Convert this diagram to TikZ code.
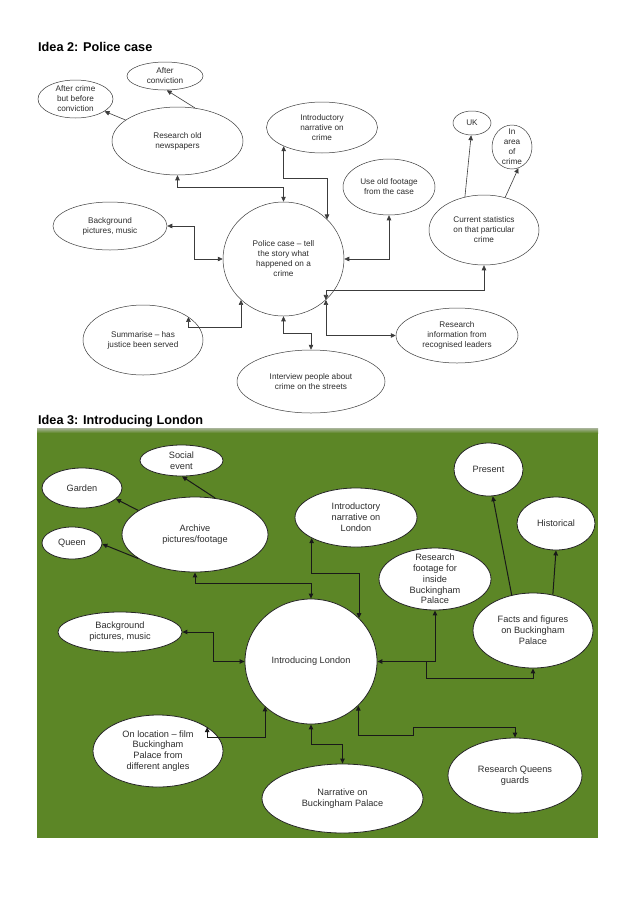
\documentclass[tikz,border=0pt]{standalone}
\usepackage{fontspec}
\setmainfont{Liberation Sans}
\usetikzlibrary{shapes.geometric,arrows.meta}
\definecolor{grn}{RGB}{92,134,38}
\definecolor{lineA}{RGB}{60,60,60}
\definecolor{txtA}{RGB}{45,45,45}
\begin{document}
\begin{tikzpicture}[x=1pt,y=-1pt,
  >={Triangle[length=5pt,width=4.5pt]},
  title/.style={anchor=base west,inner sep=0pt,font=\fontsize{12.7}{15}\selectfont\bfseries},
  topell/.style={ellipse,draw=lineA,line width=0.5pt,inner sep=-14pt,text=txtA,align=center,font=\fontsize{8.2}{10}\selectfont},
  topline/.style={draw=lineA,line width=0.6pt},
  botell/.style={ellipse,draw=black!85,fill=white,line width=0.8pt,inner sep=-14pt,text=txtA,align=center,font=\fontsize{9.2}{10.8}\selectfont},
  botline/.style={draw=black!90,line width=1pt},
  sz/.style 2 args={minimum width=#1pt,minimum height=#2pt}]
\useasboundingbox (0,0) rectangle (638,903);
\fill[white] (0,0) rectangle (638,903);

% ---------------- Idea 2 ----------------
\node[title] (t2) at (38,51) {Idea 2: Police case};

\node[topell,sz={76}{28}] (aconv) at (165,76) {After\\conviction};
\node[topell,sz={75}{38}] (acrime) at (75.5,99) {After crime\\but before\\conviction};
\node[topell,sz={131}{68}] (news) at (177.5,141) {Research old\\newspapers};
\node[topell,sz={111}{51}] (intro) at (322,127.5) {Introductory\\narrative on\\crime};
\node[topell,sz={92}{56}] (foot) at (389,187) {Use old footage\\from the case};
\node[topell,sz={38}{24}] (uk) at (472,123) {UK};
\node[topell,sz={40}{44}] (area) at (512,147) {In\\area\\of\\crime};
\node[topell,sz={110}{70}] (stats) at (484,230) {Current statistics\\on that particular\\crime};
\node[topell,sz={121}{114}] (police) at (283.5,259) {Police case -- tell\\the story what\\happened on a\\crime};
\node[topell,sz={114}{48}] (bg) at (110,226) {Background\\pictures, music};
\node[topell,sz={120}{70}] (summ) at (143,340) {Summarise -- has\\justice been served};
\node[topell,sz={148}{63}] (interv) at (311,381.5) {Interview people about\\crime on the streets};
\node[topell,sz={122}{55}] (rinfo) at (457,335.5) {Research\\information from\\recognised leaders};

\coordinate (c1) at (327,178);
\coordinate (b1) at (194,259);
\coordinate (s1) at (241,327);

\draw[topline,->] (news.62) -- (aconv.-83);
\draw[topline,->] (news.158) -- (acrime.-23);
\draw[topline,<->] (news.south) -- ++(0,12) -| (police.north);
\draw[topline,<->] (intro.206) |- (c1) -- (c1 |- police.42);
\draw[topline,<->] (foot.south) |- (police.east);
\draw[topline,->] (stats.120) -- (uk.-94);
\draw[topline,->] (stats.57) -- (area.-73);
\draw[topline,<->] (stats.south) -- ++(0,25) -| (police.-44);
\draw[topline,<->] (police.-44) |- (rinfo.west);
\draw[topline,<->] (police.south) -- ++(0,17) -| (interv.north);
\draw[topline,<->] (summ.27) |- (s1) -- (s1 |- police.-136);
\draw[topline,<->] (bg.east) -| (b1) -- (police.west);

% ---------------- Idea 3 ----------------
\node[title] (t3) at (38,424) {Idea 3: Introducing London};
\fill[grn] (37,428) rectangle (598,838);
\shade[top color=grn!45!gray!60, bottom color=grn] (37,428) rectangle (598,433);

\node[botell,sz={83}{31}] (soc) at (181.5,460.5) {Social\\event};
\node[botell,sz={80}{40}] (gard) at (82,488) {Garden};
\node[botell,sz={60}{32}] (queen) at (72,543) {Queen};
\node[botell,sz={146}{75}] (arch) at (195,534.5) {Archive\\pictures/footage};
\node[botell,sz={122}{59}] (lintro) at (356,517.5) {Introductory\\narrative on\\London};
\node[botell,sz={69}{53}] (pres) at (488.5,469.5) {Present};
\node[botell,sz={78}{53}] (hist) at (556,523.5) {Historical};
\node[botell,sz={112}{62}] (rfoot) at (435,579) {Research\\footage for\\inside\\Buckingham\\Palace};
\node[botell,sz={120}{75}] (facts) at (533,630.5) {Facts and figures\\on Buckingham\\Palace};
\node[botell,sz={132}{125}] (lond) at (311,661.5) {Introducing London};
\node[botell,sz={124}{40}] (lbg) at (120,632) {Background\\pictures, music};
\node[botell,sz={130}{72}] (loc) at (158,751) {On location -- film\\Buckingham\\Palace from\\different angles};
\node[botell,sz={161}{69}] (narr) at (342.5,798.5) {Narrative on\\Buckingham Palace};
\node[botell,sz={134}{75}] (guard) at (515,775.5) {Research Queens\\guards};

\coordinate (l1) at (359,573);
\coordinate (f1) at (426,661.5);
\coordinate (g1) at (213,661.5);
\coordinate (k1) at (265,737);
\coordinate (q1) at (413,735);
\coordinate (q2) at (413,727);

\draw[botline,->] (arch.61) -- (soc.-88);
\draw[botline,->] (arch.157) -- (gard.-18);
\draw[botline,->] (arch.203) -- (queen.-2);
\draw[botline,<->] (arch.south) -- ++(0,11) -| (lond.north);
\draw[botline,<->] (lintro.205) |- (l1) -- (l1 |- lond.42);
\draw[botline,<->] (rfoot.south) |- (lond.east);
\draw[botline,->] (f1) -- ++(0,16.5) -| (facts.south);
\draw[botline,->] (facts.121) -- (pres.-81);
\draw[botline,->] (facts.61) -- (hist.south);
\draw[botline,<->] (lbg.east) -| (g1) -- (lond.west);
\draw[botline,<->] (loc.26) |- (k1) -- (k1 |- lond.224);
\draw[botline,<->] (lond.south) -- ++(0,20) -| (narr.north);
\draw[botline,<->] (lond.-43) |- (q1) -- (q2) -| (guard.north);
\end{tikzpicture}
\end{document}
